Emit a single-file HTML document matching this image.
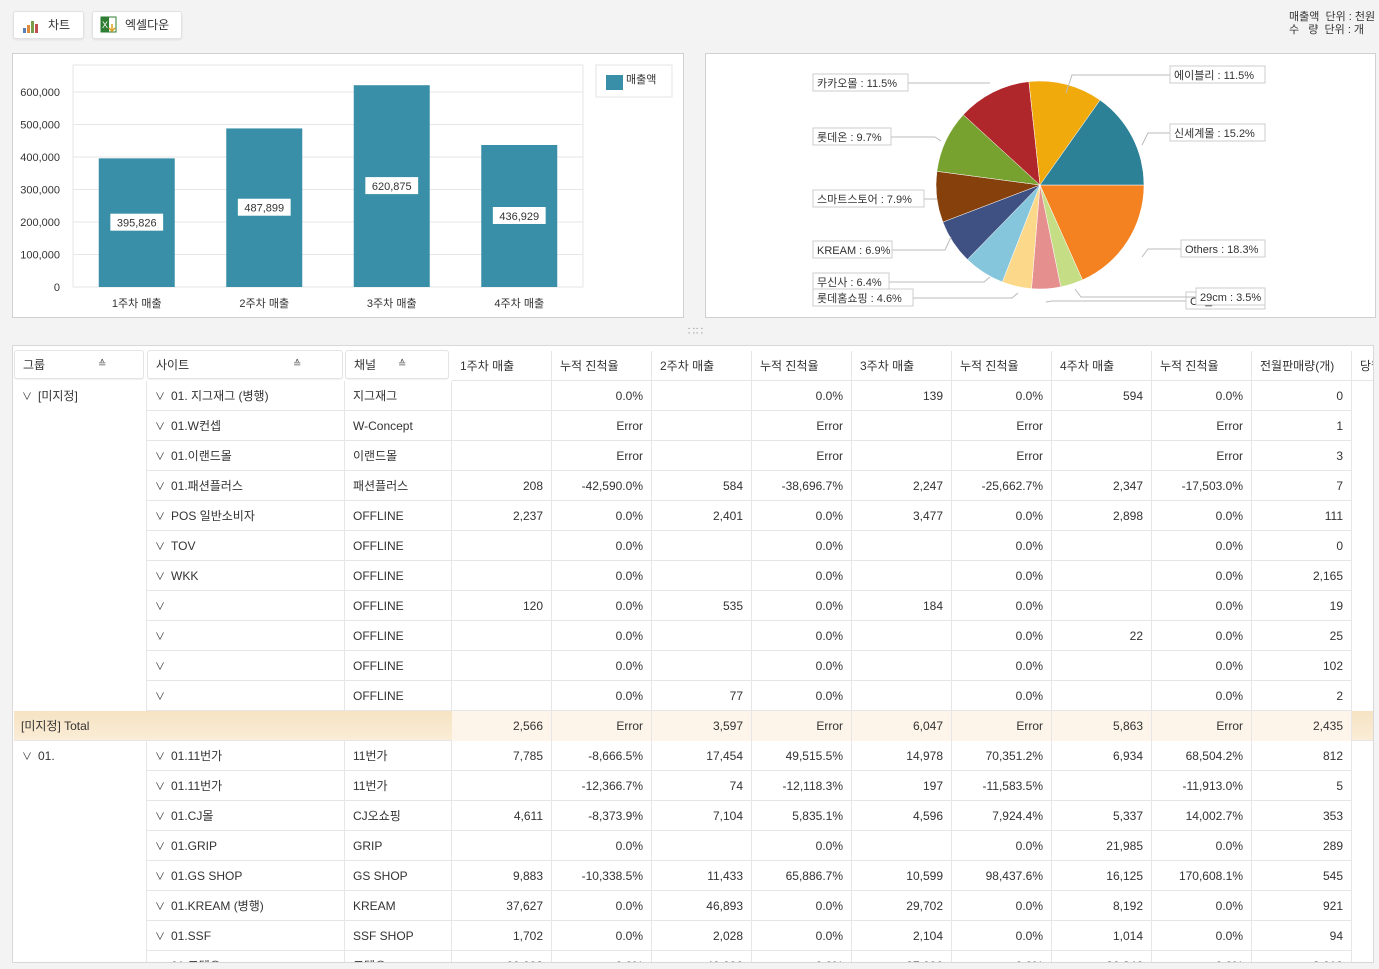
<!DOCTYPE html>
<html style="overflow:hidden"><head><meta charset="utf-8">
<style>
*{box-sizing:border-box;margin:0;padding:0}
html,body{width:1379px;height:969px;overflow:hidden}
body{background:#f3f3f3;font-family:"Liberation Sans","Noto Sans CJK KR",sans-serif;font-size:12px;color:#333;position:relative}
.btn{position:absolute;top:11px;height:28px;background:#fff;border:1px solid #e2e2e2;border-radius:3px;box-shadow:0 1px 2px rgba(0,0,0,.08);font-size:12px;line-height:26px}
.panel{position:absolute;top:53px;height:265px;background:#fff;border:1px solid #d0d0d0}
.unit{position:absolute;left:1289px;top:11px;font-size:11px;line-height:13px;white-space:pre;color:#333}
#tbl{position:absolute;left:12px;top:345px;width:1362px;height:618px;border:1px solid #d8d8d8;background:#fff;overflow:hidden}
.cell{position:absolute;height:30px;line-height:30px;border-right:1px solid #e6e6e6;border-bottom:1px solid #e6e6e6;padding:0 8px;white-space:nowrap;overflow:hidden}
.num{text-align:right}
.hd{position:absolute;height:30px;line-height:28px;padding:0 8px;white-space:nowrap;overflow:hidden}
.hb{background:#fff;border:1px solid #e4e4e4;border-radius:3px;box-shadow:0 1px 1px rgba(0,0,0,.06)}
.sort{position:absolute;top:0;font-size:10px;color:#555}
</style></head><body>
<div class="btn" style="left:13px;width:71px">
 <svg width="18" height="16" style="position:absolute;left:8px;top:6px"><rect x="1" y="10" width="3" height="5" fill="#5b7fb8"/><rect x="5" y="7" width="3" height="8" fill="#e08a3c"/><rect x="9" y="3" width="3" height="12" fill="#7a9c4a"/><rect x="13" y="6" width="3" height="9" fill="#c05050"/></svg>
 <span style="position:absolute;left:34px">차트</span></div>
<div class="btn" style="left:92px;width:90px">
 <svg width="18" height="18" style="position:absolute;left:7px;top:4px"><rect x="1" y="1" width="15" height="15" fill="#fff" stroke="#2e7d32"/><rect x="1" y="1" width="8" height="15" fill="#2e7d32"/><text x="2" y="12" font-size="9" fill="#fff" font-family="Liberation Sans">X</text><path d="M12 8v7M9 12l3 3 3-3" stroke="#e0a020" fill="none" stroke-width="1.5"/></svg>
 <span style="position:absolute;left:32px">엑셀다운</span></div>
<div class="unit">매출액  단위 : 천원
수   량  단위 : 개</div>

<div class="panel" style="left:12px;width:672px">
<svg id="bar" width="672" height="265" style="position:absolute;left:-1px;top:-1px"></svg></div>
<div class="panel" style="left:705px;width:671px">
<svg id="pie" width="671" height="265" style="position:absolute;left:-1px;top:-1px"></svg></div>
<div style="position:absolute;left:687px;top:324px;font-size:9px;color:#999;letter-spacing:-1px">∷∷</div>

<div id="tbl"></div>

<script>
// ---- bar chart data ----
const barCats=["1주차 매출","2주차 매출","3주차 매출","4주차 매출"];
const barVals=[395826,487899,620875,436929];
const barLabels=["395,826","487,899","620,875","436,929"];
const yTicks=[0,100000,200000,300000,400000,500000,600000];
const yTickLabels=["0","100,000","200,000","300,000","400,000","500,000","600,000"];
// ---- pie data ----
const pieNames=["Others","29cm","CJ몰","롯데홈쇼핑","무신사","KREAM","스마트스토어","롯데온","카카오몰","에이블리","신세계몰"];
const pieVals=[18.3,3.5,4.5,4.6,6.4,6.9,7.9,9.7,11.5,11.5,15.2];
const pieColors=["#f58220","#c5de86","#e68f8f","#fcd98a","#86c6dc","#3f5082","#86400c","#78a22f","#b0272b","#f0aa0c","#2d8196"];

const NS="http://www.w3.org/2000/svg";
function mk(p,tag,at){const e=document.createElementNS(NS,tag);for(const k in at)e.setAttribute(k,at[k]);p.appendChild(e);return e;}
// bar chart
(function(){
 const s=document.getElementById('bar');
 const L=61,R=571,T=12,B=234;
 const yMax=600000, y0=234, yTop=39;
 const y=v=>y0-v/yMax*(y0-yTop);
 const band=(R-L)/barCats.length;
 const x=i=>L+band*(i+0.5);
 mk(s,'rect',{x:L,y:T,width:R-L,height:B-T,fill:'#fff',stroke:'#e4e4e4'});
 yTicks.forEach((t,i)=>{
  const g=mk(s,'line',{x1:L,x2:R,y1:y(t),y2:y(t),stroke:'#e6e6e6'});
  
  const tx=mk(s,'text',{x:L-13,y:y(t)+4,'text-anchor':'end','font-size':11,fill:'#333'});
  tx.textContent=yTickLabels[i];
  
 });
 barVals.forEach((v,i)=>{
  const r=mk(s,'rect',{x:x(i)-38,y:y(v),width:76,height:y0-y(v),fill:'#388fa7'});
  
  const ly=(y(v)+y0)/2;
  const w=barLabels[i].length*6.4+8;
  const lb=mk(s,'rect',{x:x(i)-w/2,y:ly-9,width:w,height:17,fill:'#fff'});
  
  const t=mk(s,'text',{x:x(i),y:ly+4,'text-anchor':'middle','font-size':11,fill:'#333'});
  t.textContent=barLabels[i];
  const c=mk(s,'text',{x:x(i),y:254,'text-anchor':'middle','font-size':11,fill:'#333'});
  c.textContent=barCats[i];
 });
 const lg=mk(s,'rect',{x:584,y:12,width:76,height:32,fill:'#fff',stroke:'#e4e4e4'});
 
 mk(s,'rect',{x:594,y:22,width:17,height:15,fill:'#388fa7'});
 const lt=mk(s,'text',{x:614,y:30,'font-size':11,fill:'#333'});lt.textContent='매출액';
 
})();
// pie chart
(function(){
 const s=document.getElementById('pie');
 const cx=335,cy=132,r=104;
 const tot=pieVals.reduce((a,b)=>a+b,0);
 let a=0;
 pieVals.forEach((v,i)=>{
  const a1=a, a2=a+v/tot*2*Math.PI; a=a2;
  const p1=[cx+r*Math.cos(a1),cy+r*Math.sin(a1)],p2=[cx+r*Math.cos(a2),cy+r*Math.sin(a2)];
  const big=(a2-a1)>Math.PI?1:0;
  const p=mk(s,'path',{d:`M${cx},${cy}L${p1[0]},${p1[1]}A${r},${r} 0 ${big} 1 ${p2[0]},${p2[1]}Z`,fill:pieColors[i],stroke:'#fff','stroke-width':0.5});
  
 });
 const labs=[["카카오몰 : 11.5%",108,21,95,285,30],["롯데온 : 9.7%",108,75,78,236,88],["스마트스토어 : 7.9%",108,137,111,232,146],["KREAM : 6.9%",108,188,79,246,184],
  ["무신사 : 6.4%",108,220,76,285,224],["롯데홈쇼핑 : 4.6%",108,236,100,313,240],["에이블리 : 11.5%",465,13,95,361,40],["신세계몰 : 15.2%",465,71,95,437,92],
  ["Others : 18.3%",476,187,84,437,204],["CJ몰 : 4.4%",481,239,79,341,249],["29cm : 3.5%",491,235,69,370,236]];
 labs.forEach(l=>{
  const left=l[1]<300;const ly=l[2]+9;const ex=left?l[1]+l[3]:l[1];
  mk(s,'polyline',{points:`${ex},${ly} ${left?l[4]-6:l[4]+6},${ly} ${l[4]},${l[5]}`,fill:'none',stroke:'#bbb'});
  const b=mk(s,'rect',{x:l[1],y:l[2],width:l[3],height:17,fill:'#fff',stroke:'#ccc'});
  
  const t=mk(s,'text',{x:l[1]+4,y:l[2]+13,'font-size':11,fill:'#333'});t.textContent=l[0];
  
 });
})();
// table
const heads=["1주차 매출","누적 진척율","2주차 매출","누적 진척율","3주차 매출","누적 진척율","4주차 매출","누적 진척율","전월판매량(개)","당월"];
const rows=[
["01. 지그재그 (병행)","지그재그","","0.0%","","0.0%","139","0.0%","594","0.0%","0"],
["01.W컨셉","W-Concept","","Error","","Error","","Error","","Error","1"],
["01.이랜드몰","이랜드몰","","Error","","Error","","Error","","Error","3"],
["01.패션플러스","패션플러스","208","-42,590.0%","584","-38,696.7%","2,247","-25,662.7%","2,347","-17,503.0%","7"],
["POS 일반소비자","OFFLINE","2,237","0.0%","2,401","0.0%","3,477","0.0%","2,898","0.0%","111"],
["TOV","OFFLINE","","0.0%","","0.0%","","0.0%","","0.0%","0"],
["WKK","OFFLINE","","0.0%","","0.0%","","0.0%","","0.0%","2,165"],
["","OFFLINE","120","0.0%","535","0.0%","184","0.0%","","0.0%","19"],
["","OFFLINE","","0.0%","","0.0%","","0.0%","22","0.0%","25"],
["","OFFLINE","","0.0%","","0.0%","","0.0%","","0.0%","102"],
["","OFFLINE","","0.0%","77","0.0%","","0.0%","","0.0%","2"],
["TOTAL","","2,566","Error","3,597","Error","6,047","Error","5,863","Error","2,435"],
["01.11번가","11번가","7,785","-8,666.5%","17,454","49,515.5%","14,978","70,351.2%","6,934","68,504.2%","812"],
["01.11번가","11번가","","-12,366.7%","74","-12,118.3%","197","-11,583.5%","","-11,913.0%","5"],
["01.CJ몰","CJ오쇼핑","4,611","-8,373.9%","7,104","5,835.1%","4,596","7,924.4%","5,337","14,002.7%","353"],
["01.GRIP","GRIP","","0.0%","","0.0%","","0.0%","21,985","0.0%","289"],
["01.GS SHOP","GS SHOP","9,883","-10,338.5%","11,433","65,886.7%","10,599","98,437.6%","16,125","170,608.1%","545"],
["01.KREAM (병행)","KREAM","37,627","0.0%","46,893","0.0%","29,702","0.0%","8,192","0.0%","921"],
["01.SSF","SSF SHOP","1,702","0.0%","2,028","0.0%","2,104","0.0%","1,014","0.0%","94"],
["01.코텔오","코텔오","60,003","0.0%","40,000","0.0%","37,000","0.0%","30,346","0.0%","3,019"]];
(function(){
 const t=document.getElementById('tbl');
 const ox=-13,oy=-346;
 const colX=[452,552,652,752,852,952,1052,1152,1252,1352];
 function add(html,cls,l,tp,w,name,inter){const d=document.createElement('div');d.className=cls;d.style.left=(l+ox)+'px';d.style.top=(tp+oy)+'px';d.style.width=w+'px';d.innerHTML=html;
  
  t.appendChild(d);return d;}
 [["그룹",14,130,83],["사이트",147,196,145],["채널",345,104,52]].forEach(h=>{
  const d=add(h[0]+'<span class="sort" style="left:'+h[3]+'px">≙</span>','hd hb',h[1],350,h[2],'column-header','true');d.style.height='29px';
 });
 heads.forEach((h,i)=>{const d=add(h,'hd',colX[i],351,100,'column-header','true');d.style.borderRight='1px solid #e6e6e6';d.style.borderBottom='1px solid #e6e6e6';d.style.lineHeight='30px';});
 let y=381;
 rows.forEach((r,ri)=>{
  if(r[0]==="TOTAL"){
   const d=add('[미지정] Total','cell',14,y,1370,'total-row','false');d.style.background='linear-gradient(#f6e3c3,#faecd6)';d.style.padding='0 7px';
   r.slice(2).forEach((v,i)=>{const c=add(v,'cell num',colX[i],y,100,'total-cell','false');c.style.background=i<10?'#fdf5ea':'';c.style.borderBottom='none';});
   y+=30;return;}
  if(ri===0||ri===12){const g=add('<span style="font-size:10px;margin-right:6px">∨</span>'+(ri===0?'[미지정]':'01.'),'cell',14,y,133,'group-cell','true');g.style.borderBottom='none';g.style.height=(ri===0?330:240)+'px';}
  add('<span style="font-size:10px;margin-right:6px">∨</span>'+r[0],'cell',147,y,198,'site-cell','true');
  add(r[1],'cell',345,y,107,'channel-cell','false');
  r.slice(2).forEach((v,i)=>add(v,'cell num',colX[i],y,100,'value-cell','false'));
  y+=30;
 });
})();
</script>
</body></html>
